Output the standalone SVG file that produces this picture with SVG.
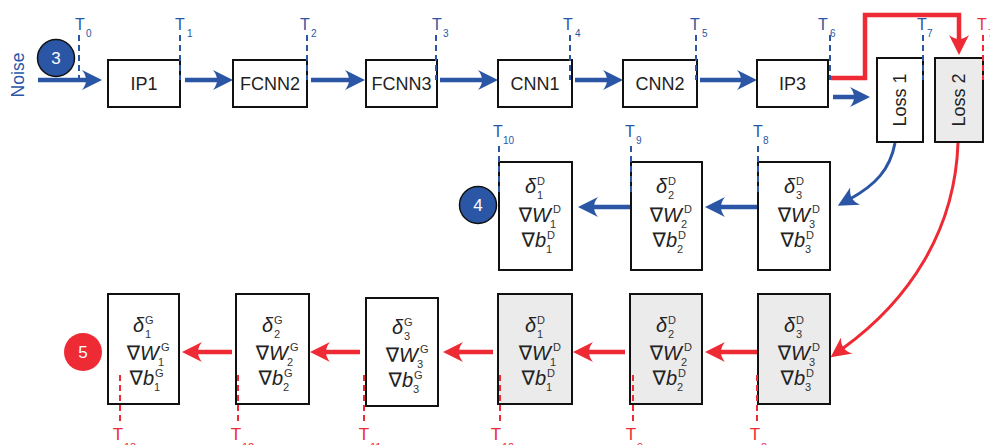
<svg xmlns="http://www.w3.org/2000/svg" width="990" height="445" viewBox="0 0 990 445">
<style>
.box{fill:#fff;stroke:#111;stroke-width:2}
.gbox{fill:#ebebeb;stroke:#111;stroke-width:2}
.lbl{font-family:"Liberation Sans",Arial,sans-serif;font-size:18px;fill:#222;text-anchor:middle}
.m{font-family:"Liberation Sans","DejaVu Sans",sans-serif;font-size:20px;fill:#222;text-anchor:end}
.i{font-style:italic}
.s{font-family:"Liberation Sans",Arial,sans-serif;font-size:11px;fill:#333}
.tb{font-family:"Liberation Sans",Arial,sans-serif;font-size:16px;fill:#2b56a5;text-anchor:middle}
.tbs{font-family:"Liberation Sans",Arial,sans-serif;font-size:10px;fill:#2b56a5}
.tr{font-family:"Liberation Sans",Arial,sans-serif;font-size:17px;fill:#ee2a35;text-anchor:middle}
.trs{font-family:"Liberation Sans",Arial,sans-serif;font-size:11px;fill:#ee2a35}
.db{stroke:#2b56a5;stroke-width:2;stroke-dasharray:6 4;fill:none}
.dr{stroke:#ee2a35;stroke-width:2;stroke-dasharray:6 4;fill:none}
.ab{stroke:#2b56a5;stroke-width:4.5;fill:none;marker-end:url(#hb)}
.ar{stroke:#ee2a35;stroke-width:4.5;fill:none;marker-end:url(#hr)}
.cb{stroke:#2b56a5;stroke-width:3;fill:none;marker-end:url(#hb)}
.cr{stroke:#ee2a35;stroke-width:3;fill:none;marker-end:url(#hr)}
.num{font-family:"Liberation Sans",Arial,sans-serif;font-size:17px;fill:#fff;text-anchor:middle}
</style>
<defs>
<marker id="hb" viewBox="0 0 20 20" markerUnits="userSpaceOnUse" markerWidth="20" markerHeight="20" refX="6" refY="10" orient="auto"><path d="M20,10 L0,0 Q8,10 0,20 Z" fill="#2b56a5"/></marker>
<marker id="hr" viewBox="0 0 20 20" markerUnits="userSpaceOnUse" markerWidth="20" markerHeight="20" refX="6" refY="10" orient="auto"><path d="M20,10 L0,0 Q8,10 0,20 Z" fill="#ee2a35"/></marker>
</defs>

<text x="24" y="75" transform="rotate(-90 24 75)" style="font-family:'Liberation Sans',Arial,sans-serif;font-size:17.5px;fill:#2b56a5;text-anchor:middle">Noise</text>

<g id="connectors">
<path class="ab" d="M38,80 H88"/>
<path class="ab" d="M185,80 H219"/>
<path class="ab" d="M311,80 H351"/>
<path class="ab" d="M440,80 H484"/>
<path class="ab" d="M575,80 H609"/>
<path class="ab" d="M700,80 H743"/>
<path class="ab" d="M833,97 H856"/>
<path class="ar" d="M831,78 H865 V15 H959 V41"/>
<path class="ab" d="M758,207 H719"/>
<path class="ab" d="M631,207 H592"/>
<path class="cb" d="M895,143 C890,170 875,185 850,199"/>
<path class="cr" d="M958,143 C955,230 910,300 842,349"/>
<path class="ar" d="M757,352 H719"/>
<path class="ar" d="M625,352 H587"/>
<path class="ar" d="M493,352 H457"/>
<path class="ar" d="M360,352 H324"/>
<path class="ar" d="M232,352 H196"/>
</g>

<g id="n3"><circle cx="56" cy="58" r="18.5" fill="#2b56a5" stroke="#111" stroke-width="1.5"/><text class="num" x="56" y="64">3</text></g>
<g id="ip1"><rect class="box" x="108" y="60" width="72" height="47"/><text class="lbl" x="144" y="90">IP1</text></g>
<g id="fcnn2"><rect class="box" x="233" y="60" width="74" height="47"/><text class="lbl" x="270" y="90">FCNN2</text></g>
<g id="fcnn3"><rect class="box" x="366" y="60" width="71" height="47"/><text class="lbl" x="401.5" y="90">FCNN3</text></g>
<g id="cnn1"><rect class="box" x="498" y="60" width="74" height="47"/><text class="lbl" x="535" y="90">CNN1</text></g>
<g id="cnn2"><rect class="box" x="623" y="60" width="74" height="47"/><text class="lbl" x="660" y="90">CNN2</text></g>
<g id="ip3"><rect class="box" x="757" y="60" width="71" height="47"/><text class="lbl" x="792.5" y="90">IP3</text></g>
<g id="loss1"><rect class="box" x="877" y="58" width="46" height="84"/><text class="lbl" x="906" y="100" transform="rotate(-90 906 100)">Loss 1</text></g>
<g id="loss2"><rect class="gbox" x="935" y="58" width="48" height="84"/><text class="lbl" x="965" y="100" transform="rotate(-90 965 100)">Loss 2</text></g>

<g id="n4"><circle cx="478" cy="205" r="18.5" fill="#2b56a5" stroke="#111" stroke-width="1.5"/><text class="num" x="478" y="211">4</text></g>
<g id="md1"><rect class="box" x="499" y="162" width="73" height="108"/>
<text class="m" x="536" y="193"><tspan class="i">δ</tspan></text><text class="s" x="537" y="185">D</text><text class="s" x="537" y="199">1</text>
<text class="m" x="551" y="222">∇<tspan class="i">W</tspan></text><text class="s" x="553" y="213">D</text><text class="s" x="550" y="228">1</text>
<text class="m" x="546" y="247">∇<tspan class="i">b</tspan></text><text class="s" x="547" y="239">D</text><text class="s" x="546" y="253">1</text></g>
<g id="md2"><rect class="box" x="631" y="162" width="71" height="108"/>
<text class="m" x="667" y="193"><tspan class="i">δ</tspan></text><text class="s" x="668" y="185">D</text><text class="s" x="668" y="199">2</text>
<text class="m" x="682" y="222">∇<tspan class="i">W</tspan></text><text class="s" x="684" y="213">D</text><text class="s" x="681" y="228">2</text>
<text class="m" x="677" y="247">∇<tspan class="i">b</tspan></text><text class="s" x="678" y="239">D</text><text class="s" x="677" y="253">2</text></g>
<g id="md3"><rect class="box" x="758" y="162" width="72" height="108"/>
<text class="m" x="795" y="193"><tspan class="i">δ</tspan></text><text class="s" x="796" y="185">D</text><text class="s" x="796" y="199">3</text>
<text class="m" x="810" y="222">∇<tspan class="i">W</tspan></text><text class="s" x="812" y="213">D</text><text class="s" x="809" y="228">3</text>
<text class="m" x="805" y="247">∇<tspan class="i">b</tspan></text><text class="s" x="806" y="239">D</text><text class="s" x="805" y="253">3</text></g>

<g id="n5"><circle cx="83" cy="352" r="19" fill="#ee2a35"/><text class="num" x="83" y="358">5</text></g>
<g id="bg1"><rect class="box" x="108" y="294" width="71" height="110"/>
<text class="m" x="144" y="332"><tspan class="i">δ</tspan></text><text class="s" x="145" y="324">G</text><text class="s" x="145" y="338">1</text>
<text class="m" x="159" y="360">∇<tspan class="i">W</tspan></text><text class="s" x="161" y="351">G</text><text class="s" x="158" y="366">1</text>
<text class="m" x="154" y="385">∇<tspan class="i">b</tspan></text><text class="s" x="155" y="377">G</text><text class="s" x="154" y="391">1</text></g>
<g id="bg2"><rect class="box" x="236" y="294" width="73" height="110"/>
<text class="m" x="273" y="332"><tspan class="i">δ</tspan></text><text class="s" x="274" y="324">G</text><text class="s" x="274" y="338">2</text>
<text class="m" x="288" y="360">∇<tspan class="i">W</tspan></text><text class="s" x="290" y="351">G</text><text class="s" x="287" y="366">2</text>
<text class="m" x="283" y="385">∇<tspan class="i">b</tspan></text><text class="s" x="284" y="377">G</text><text class="s" x="283" y="391">2</text></g>
<g id="bg3"><rect class="box" x="366" y="298" width="72" height="108"/>
<text class="m" x="403" y="334"><tspan class="i">δ</tspan></text><text class="s" x="404" y="326">G</text><text class="s" x="404" y="340">3</text>
<text class="m" x="418" y="362">∇<tspan class="i">W</tspan></text><text class="s" x="420" y="353">G</text><text class="s" x="417" y="368">3</text>
<text class="m" x="413" y="387">∇<tspan class="i">b</tspan></text><text class="s" x="414" y="379">G</text><text class="s" x="413" y="393">3</text></g>
<g id="bd1"><rect class="gbox" x="498" y="294" width="74" height="110"/>
<text class="m" x="536" y="332"><tspan class="i">δ</tspan></text><text class="s" x="537" y="324">D</text><text class="s" x="537" y="338">1</text>
<text class="m" x="551" y="360">∇<tspan class="i">W</tspan></text><text class="s" x="553" y="351">D</text><text class="s" x="550" y="366">1</text>
<text class="m" x="546" y="385">∇<tspan class="i">b</tspan></text><text class="s" x="547" y="377">D</text><text class="s" x="546" y="391">1</text></g>
<g id="bd2"><rect class="gbox" x="630" y="294" width="72" height="110"/>
<text class="m" x="667" y="332"><tspan class="i">δ</tspan></text><text class="s" x="668" y="324">D</text><text class="s" x="668" y="338">2</text>
<text class="m" x="682" y="360">∇<tspan class="i">W</tspan></text><text class="s" x="684" y="351">D</text><text class="s" x="681" y="366">2</text>
<text class="m" x="677" y="385">∇<tspan class="i">b</tspan></text><text class="s" x="678" y="377">D</text><text class="s" x="677" y="391">2</text></g>
<g id="bd3"><rect class="gbox" x="758" y="294" width="72" height="110"/>
<text class="m" x="795" y="332"><tspan class="i">δ</tspan></text><text class="s" x="796" y="324">D</text><text class="s" x="796" y="338">3</text>
<text class="m" x="810" y="360">∇<tspan class="i">W</tspan></text><text class="s" x="812" y="351">D</text><text class="s" x="809" y="366">3</text>
<text class="m" x="805" y="385">∇<tspan class="i">b</tspan></text><text class="s" x="806" y="377">D</text><text class="s" x="805" y="391">3</text></g>

<g id="timestamps">
<path class="db" d="M79,35 V80 M180,35 V80 M307,35 V80 M436,35 V80 M570,35 V80 M696,35 V80 M830,35 V80 M923,35 V80"/>
<path class="dr" d="M983,35 V80"/>
<text class="tb" x="80" y="30">T</text><text class="tbs" x="86" y="37">0</text>
<text class="tb" x="180" y="30">T</text><text class="tbs" x="187" y="37">1</text>
<text class="tb" x="305" y="30">T</text><text class="tbs" x="311" y="37">2</text>
<text class="tb" x="437" y="30">T</text><text class="tbs" x="443" y="37">3</text>
<text class="tb" x="568" y="30">T</text><text class="tbs" x="575" y="37">4</text>
<text class="tb" x="695" y="30">T</text><text class="tbs" x="702" y="37">5</text>
<text class="tb" x="823" y="30">T</text><text class="tbs" x="830" y="37">6</text>
<text class="tb" x="922" y="30">T</text><text class="tbs" x="927" y="37">7</text>
<text class="tb" x="982" y="30" style="fill:#ee2a35">T</text><text class="tbs" x="988" y="37" style="fill:#ee2a35">7</text>
<path class="db" d="M499,146 V193 M631,146 V193 M758,146 V193"/>
<text class="tb" x="498" y="137">T</text><text class="tbs" x="503" y="144">10</text>
<text class="tb" x="630" y="137">T</text><text class="tbs" x="636" y="144">9</text>
<text class="tb" x="758" y="137">T</text><text class="tbs" x="763" y="144">8</text>
<path class="dr" d="M120,375 V421 M238,375 V421 M364,375 V421 M500,375 V421 M633,375 V421 M757,375 V421"/>
<text class="tr" x="118" y="440">T</text><text class="trs" x="124" y="451">13</text>
<text class="tr" x="236" y="440">T</text><text class="trs" x="242" y="451">12</text>
<text class="tr" x="364" y="440">T</text><text class="trs" x="370" y="451">11</text>
<text class="tr" x="496" y="440">T</text><text class="trs" x="502" y="451">10</text>
<text class="tr" x="631" y="440">T</text><text class="trs" x="637" y="451">9</text>
<text class="tr" x="755" y="440">T</text><text class="trs" x="761" y="451">8</text>
</g>
</svg>
